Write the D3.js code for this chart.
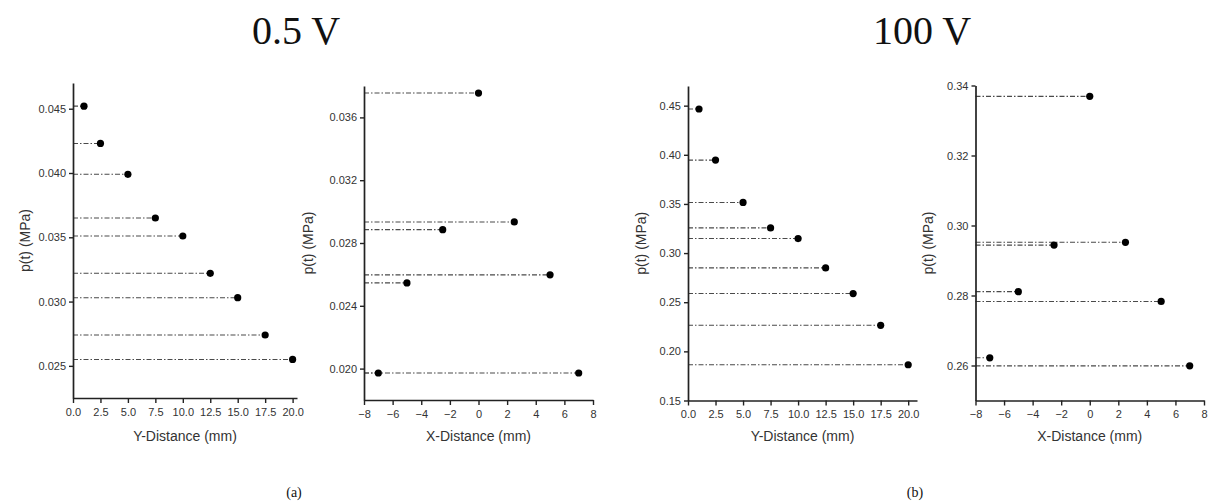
<!DOCTYPE html>
<html>
<head>
<meta charset="utf-8">
<script src="https://cdn.jsdelivr.net/npm/d3@7"></script>
<style>
  body { margin: 0; background: #fff; }
  text { font-family: "Liberation Sans", Arial, sans-serif; fill: #333; }
  .title, .sub { font-family: "Liberation Serif", "Times New Roman", serif; fill: #111; }
</style>
</head>
<body>
<div id="chart"></div>
<script>
// data
var titles = ["0.5 V", "100 V"];
var subLabels = ["(a)", "(b)"];

var yDistance = [1, 2.5, 5, 7.5, 10, 12.5, 15, 17.5, 20];
var xDistance = [-7, -5, -2.5, 0, 2.5, 5, 7];

var pY_05 = [0.0452, 0.0423, 0.0399, 0.0365, 0.0351, 0.0322, 0.0303, 0.0274, 0.0255];
var pX_05 = [0.01972, 0.02546, 0.02885, 0.03755, 0.02934, 0.02597, 0.01972];
var pY_100 = [0.4466, 0.3946, 0.3515, 0.3256, 0.3148, 0.2849, 0.2588, 0.2265, 0.1864];
var pX_100 = [0.2622, 0.2811, 0.2944, 0.3369, 0.2952, 0.2783, 0.2599];

var yTicks_Y05 = [0.025, 0.030, 0.035, 0.040, 0.045];
var yTicks_X05 = [0.020, 0.024, 0.028, 0.032, 0.036];
var yTicks_Y100 = [0.15, 0.20, 0.25, 0.30, 0.35, 0.40, 0.45];
var yTicks_X100 = [0.26, 0.28, 0.30, 0.32, 0.34];
var xTicksY = [0, 2.5, 5, 7.5, 10, 12.5, 15, 17.5, 20];
var xTicksX = [-8, -6, -4, -2, 0, 2, 4, 6, 8];

var width = 1212, height = 502;

var svg = d3.select("#chart").append("svg")
  .attr("width", width)
  .attr("height", height);

// panel layout (pixels)
var panels = [
  { x: yDistance, ys: pY_05, xdom: [0, 20.4], ydom: [0.0225, 0.047],
    xr: [73, 297], yr: [398, 83], xt: xTicksY, yt: yTicks_Y05, xf: ".1f", yf: ".3f", xl: "Y-Distance (mm)", ylx: 25 },
  { x: xDistance, ys: pX_05, xdom: [-8, 8], ydom: [0.018, 0.038],
    xr: [364, 593], yr: [400, 86], xt: xTicksX, yt: yTicks_X05, xf: "d", yf: ".3f", xl: "X-Distance (mm)", ylx: 308 },
  { x: yDistance, ys: pY_100, xdom: [0, 20.8], ydom: [0.15, 0.47],
    xr: [688, 917], yr: [400.5, 86], xt: xTicksY, yt: yTicks_Y100, xf: ".1f", yf: ".2f", xl: "Y-Distance (mm)", ylx: 641 },
  { x: xDistance, ys: pX_100, xdom: [-8, 8], ydom: [0.25, 0.34],
    xr: [975.5, 1204], yr: [400.5, 85.5], xt: xTicksX, yt: yTicks_X100, xf: "d", yf: ".2f", xl: "X-Distance (mm)", ylx: 928 }
];

panels.forEach(function(p) {
  var x = d3.scaleLinear().domain(p.xdom).range(p.xr);
  var y = d3.scaleLinear().domain(p.ydom).range(p.yr);
  var g = svg.append("g");

  var pts = p.x.map(function(d, i) { return { x: d, y: p.ys[i] }; });

  // dash-dot lines from the y axis to each point
  g.selectAll("line.drop")
    .data(pts)
    .enter()
    .append("line")
    .attr("class", "drop")
    .attr("x1", p.xr[0])
    .attr("x2", function(d) { return x(d.x); })
    .attr("y1", function(d) { return y(d.y); })
    .attr("y2", function(d) { return y(d.y); })
    .attr("stroke", "#4a4a4a")
    .attr("stroke-width", 1.1)
    .attr("stroke-dasharray", "5,2,1.5,2");

  g.selectAll("circle")
    .data(pts)
    .enter()
    .append("circle")
    .attr("cx", function(d) { return x(d.x); })
    .attr("cy", function(d) { return y(d.y); })
    .attr("r", 3.6)
    .attr("fill", "#000");

  var xAxis = g.append("g")
    .attr("transform", "translate(0," + p.yr[0] + ")")
    .call(d3.axisBottom(x).tickValues(p.xt).tickFormat(d3.format(p.xf)).tickSize(5).tickSizeOuter(0));
  var yAxis = g.append("g")
    .attr("transform", "translate(" + p.xr[0] + ",0)")
    .call(d3.axisLeft(y).tickValues(p.yt).tickFormat(d3.format(p.yf)).tickSize(4).tickSizeOuter(0));

  [xAxis, yAxis].forEach(function(a) {
    a.select(".domain").attr("stroke", "#222").attr("stroke-width", 1.7);
    a.selectAll(".tick line").attr("stroke", "#222").attr("stroke-width", 1.4);
    a.selectAll(".tick text").attr("fill", "#444").style("font-size", "11px");
  });
  xAxis.selectAll(".tick text").attr("dy", "0.9em");

  g.append("text")
    .attr("x", (p.xr[0] + p.xr[1]) / 2)
    .attr("y", 441)
    .attr("text-anchor", "middle")
    .style("font-size", "14px")
    .text(p.xl);

  g.append("text")
    .attr("transform", "translate(" + p.ylx + "," + ((p.yr[0] + p.yr[1]) / 2) + ") rotate(-90)")
    .attr("text-anchor", "middle")
    .attr("dy", "0.35em")
    .style("font-size", "14px")
    .text("p(t) (MPa)");
});

var titleX = [296, 922];
var subX = [294, 915];
titles.forEach(function(t, i) {
  svg.append("text")
    .attr("class", "title")
    .attr("x", titleX[i])
    .attr("y", 44)
    .attr("text-anchor", "middle")
    .style("font-size", "40px")
    .text(t);
  svg.append("text")
    .attr("class", "sub")
    .attr("x", subX[i])
    .attr("y", 497)
    .attr("text-anchor", "middle")
    .style("font-size", "14px")
    .text(subLabels[i]);
});
</script>
</body>
</html>
